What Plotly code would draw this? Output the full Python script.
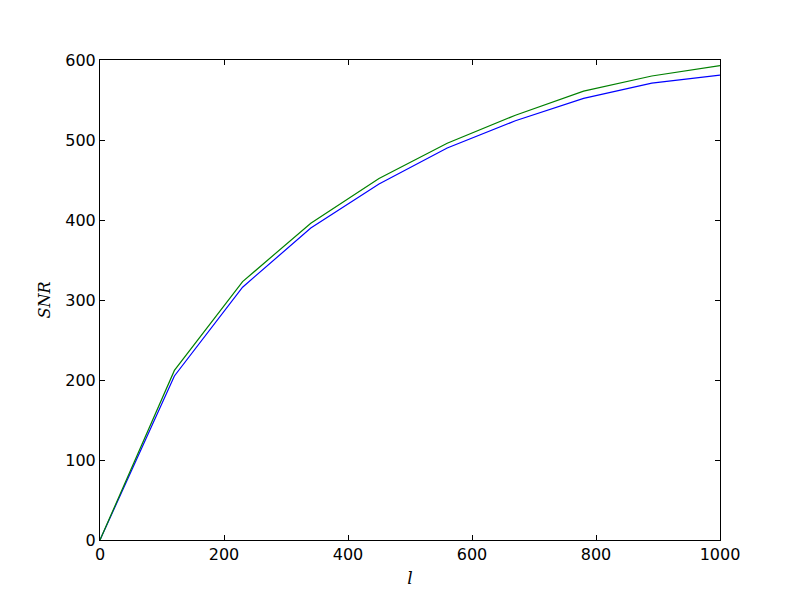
import plotly.graph_objects as go

l_values = [0, 120, 230, 340, 450, 560, 670, 780, 890, 1000]
snr_blue = [0, 205, 316, 390, 445, 490, 524, 552, 571, 581]
snr_green = [0, 212, 323, 396, 452, 496, 531, 561, 580, 593]
x_ticks = [0, 200, 400, 600, 800, 1000]
y_ticks = [0, 100, 200, 300, 400, 500, 600]

fig = go.Figure()
fig.add_trace(go.Scatter(x=l_values, y=snr_blue, mode="lines",
                         line=dict(color="#0000ff", width=1.2), showlegend=False))
fig.add_trace(go.Scatter(x=l_values, y=snr_green, mode="lines",
                         line=dict(color="#008000", width=1.2), showlegend=False))

axis_common = dict(showgrid=False, zeroline=False, showline=True, linecolor="black",
                   linewidth=1, mirror="ticks", ticks="inside", ticklen=5,
                   tickcolor="black", tickwidth=1,
                   tickfont=dict(family="DejaVu Sans", size=16, color="black"))

fig.update_layout(
    width=800, height=600,
    paper_bgcolor="white", plot_bgcolor="white",
    margin=dict(l=92, r=88, t=52, b=68),
    xaxis=dict(range=[0, 1000], tickvals=x_ticks, **axis_common,
               title=dict(text="<i>l</i>", font=dict(family="DejaVu Serif", size=17, color="black"),
                          standoff=8)),
    yaxis=dict(range=[0, 600], tickvals=y_ticks, **axis_common,
               title=dict(text="<i>SNR</i>", font=dict(family="DejaVu Serif", size=16, color="black"),
                          standoff=10)),
)

fig.write_html("out.html")
